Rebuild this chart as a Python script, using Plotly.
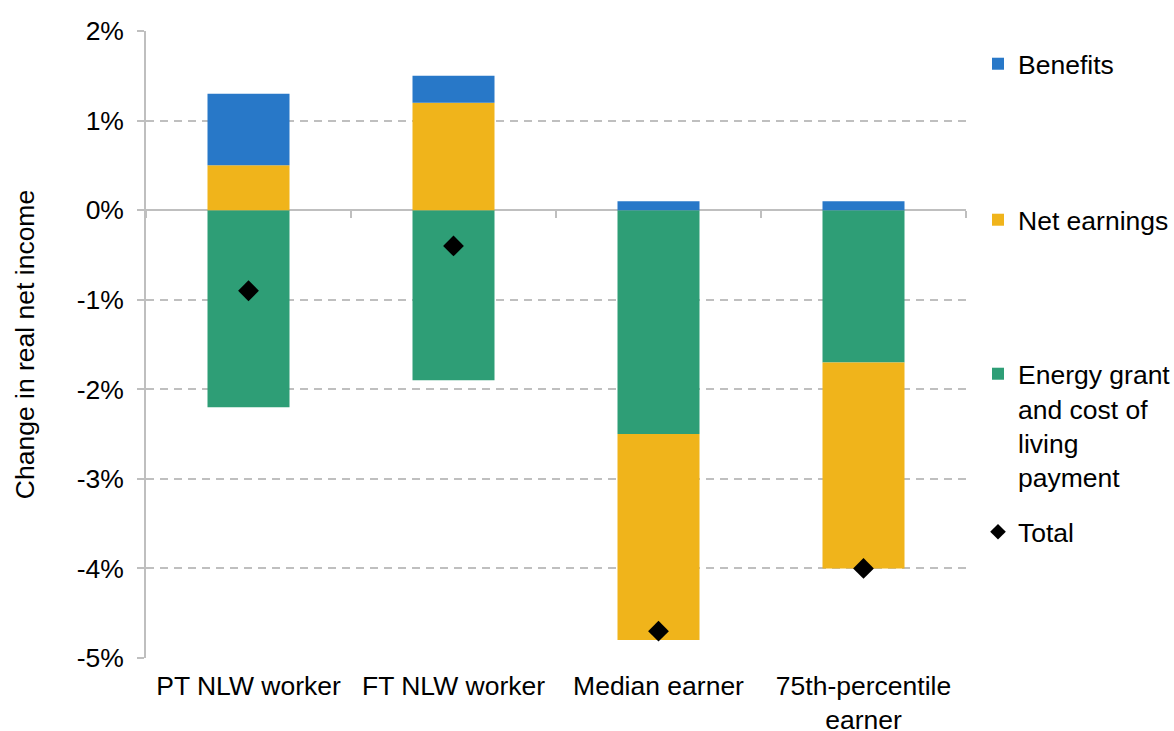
import plotly.graph_objects as go

categories = ["PT NLW worker", "FT NLW worker", "Median earner", "75th-percentile<br>earner"]
energy = [-2.2, -1.9, -2.5, -1.7]
net_earnings = [0.5, 1.2, -2.3, -2.3]
benefits = [0.8, 0.3, 0.1, 0.1]
total = [-0.9, -0.4, -4.7, -4.0]

tick_vals = [2, 1, 0, -1, -2, -3, -4, -5]
tick_text = ["2%", "1%", "0%", "-1%", "-2%", "-3%", "-4%", "-5%"]

C_BEN = "#2878C8"
C_NET = "#F0B41B"
C_ENE = "#2E9E76"
GRID = "#BFBFBF"
FONT = "Liberation Sans, Arial, sans-serif"
FS = 26.5

fig = go.Figure()
fig.add_trace(go.Bar(x=categories, y=energy, name="Energy grant<br>and cost of<br>living<br>payment",
                     marker=dict(color=C_ENE, line=dict(width=0)), legend="legend3"))
fig.add_trace(go.Bar(x=categories, y=net_earnings, name="Net earnings",
                     marker=dict(color=C_NET, line=dict(width=0)), legend="legend2"))
fig.add_trace(go.Bar(x=categories, y=benefits, name="Benefits",
                     marker=dict(color=C_BEN, line=dict(width=0)), legend="legend"))
fig.add_trace(go.Scatter(x=categories, y=total, name="Total", mode="markers", xaxis="x2",
                         marker=dict(symbol="diamond", size=16, color="black"), legend="legend4"))

# plot area (page pixels): x 146..966, y 31..658
def px_to_frac(py):
    return (658 - py) / 627.0

leg_common = dict(font=dict(family=FONT, size=FS, color="black"), bgcolor="rgba(0,0,0,0)",
                  borderwidth=0, x=(978 - 146) / 820.0, xanchor="left")

fig.update_layout(
    width=1174, height=731,
    margin=dict(l=146, r=208, t=31, b=73, autoexpand=False),
    paper_bgcolor="white", plot_bgcolor="white",
    font=dict(family=FONT, size=FS, color="black"),
    barmode="relative", bargap=0.6,
    showlegend=True,
    legend=dict(**leg_common, y=px_to_frac(64), yanchor="middle"),
    legend2=dict(**leg_common, y=px_to_frac(220), yanchor="middle"),
    legend3=dict(**leg_common, y=px_to_frac(350), yanchor="top", valign="top"),
    legend4=dict(**leg_common, y=px_to_frac(532), yanchor="middle", itemsizing="constant"),
    xaxis=dict(type="category", categoryorder="array", categoryarray=categories,
               showline=False, showgrid=False, ticks="", zeroline=False, automargin=False,
               tickfont=dict(family=FONT, size=FS, color="black"), ticklabelstandoff=9),
    xaxis2=dict(type="category", matches="x", overlaying="x", anchor="free", position=5/7,
                showline=False, showgrid=False, showticklabels=False, zeroline=False,
                automargin=False,
                ticks="outside", tickson="boundaries", ticklen=7, tickwidth=1.5, tickcolor=GRID),
    yaxis=dict(range=[-5, 2], tickvals=tick_vals, ticktext=tick_text, automargin=False,
               showline=True, linecolor=GRID, linewidth=1.5,
               ticks="outside", ticklen=7, tickwidth=1.5, tickcolor=GRID,
               showgrid=True, gridcolor=GRID, gridwidth=1.5, griddash="8px,6px",
               zeroline=True, zerolinecolor=GRID, zerolinewidth=1.5,
               tickfont=dict(family=FONT, size=FS, color="black"), ticklabelstandoff=8,
               title=dict(text="Change in real net income", standoff=35,
                          font=dict(family=FONT, size=FS, color="black"))),
)

fig.write_html("out.html", config={"displayModeBar": False},
               post_script="document.body.style.margin='0px';")
